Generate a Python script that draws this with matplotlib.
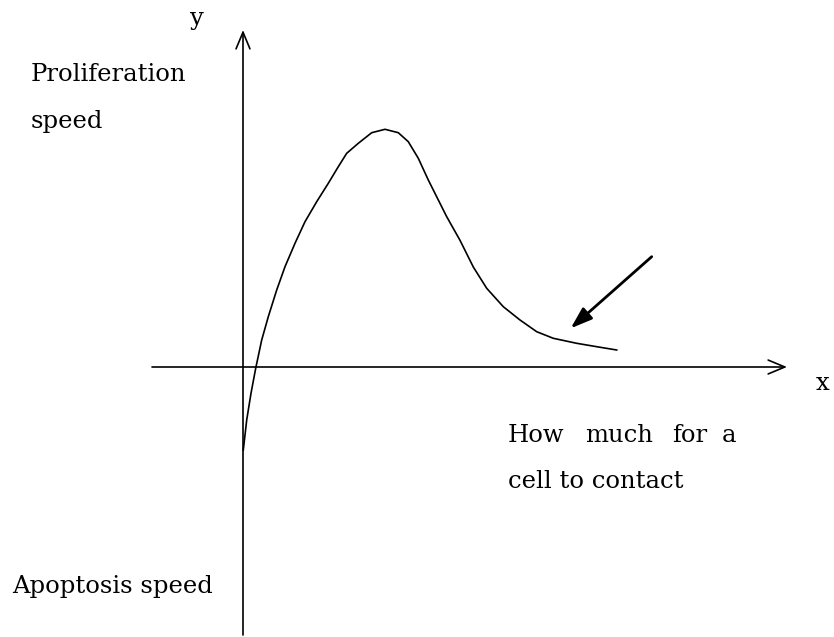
import numpy as np
import matplotlib.pyplot as plt

# curve (origin at the axes crossing, units ~ pixels)
curve_x = [0.3, 3.7, 8, 12.7, 18.7, 25.3, 33.7, 42, 52, 62, 73.7, 85.3, 95.3, 103.7,
           115.3, 128.7, 142, 155.3, 165.3, 175.3, 185.3, 190.3, 203.7, 217, 230.3,
           243.7, 260.3, 277, 293.7, 310.3, 333.7, 353.7, 373.7]
curve_y = [-83, -53, -26.3, -1.3, 27, 50.3, 77, 100.3, 123.7, 145.3, 165.3, 183.7, 200.3, 213.7,
           223.7, 234.3, 237.7, 234.3, 225.3, 208.7, 187, 177, 150.3, 126.7, 100,
           78.7, 60.3, 47, 35.3, 28.7, 23.7, 20.3, 17]

x_axis = [-91, 544]
y_axis = [-268, 337]
pointer_from = (408.7, 110.3)
pointer_to = (327.7, 38.7)

xlabel_words = ['How', 'much', 'for', 'a']
xlabel_word_x = [265, 342, 429, 479]

serif = ['DejaVu Serif']

fig = plt.figure(figsize=(8.34, 6.37), dpi=100)
ax = fig.add_axes([0, 0, 1, 1])
ax.set_xlim(-243, 591)
ax.set_ylim(-270, 367)
ax.axis('off')

ax.plot(curve_x, curve_y, color='black', lw=1.2, solid_joinstyle='round')

# axes with open arrow heads
head = '->,head_length=1.2,head_width=0.5'
ax.annotate('', xy=(x_axis[1], 0), xytext=(x_axis[0], 0),
            arrowprops=dict(arrowstyle=head, color='black', lw=1.2, shrinkA=0, shrinkB=0))
ax.annotate('', xy=(0, y_axis[1]), xytext=(0, y_axis[0]),
            arrowprops=dict(arrowstyle=head, color='black', lw=1.2, shrinkA=0, shrinkB=0))

# pointer arrow
ax.annotate('', xy=pointer_to, xytext=pointer_from,
            arrowprops=dict(arrowstyle='-|>,head_length=1.3,head_width=0.45', color='black', lw=2,
                            shrinkA=0, shrinkB=0))

fs = 17.5
ax.text(-46, 349, 'y', fontsize=fs, family=serif, ha='center', va='center')
ax.text(580, -16, 'x', fontsize=fs, family=serif, ha='center', va='center')
ax.text(-212, 286, 'Proliferation', fontsize=fs, family=serif, va='baseline')
ax.text(-212, 239, 'speed', fontsize=fs, family=serif, va='baseline')
ax.text(-231, -226, 'Apoptosis speed', fontsize=fs, family=serif, va='baseline')
for word, wx in zip(xlabel_words, xlabel_word_x):
    ax.text(wx, -75, word, fontsize=fs, family=serif, va='baseline')
ax.text(265, -121, 'cell to contact', fontsize=fs, family=serif, va='baseline')

fig.savefig('out.png', dpi=100)
